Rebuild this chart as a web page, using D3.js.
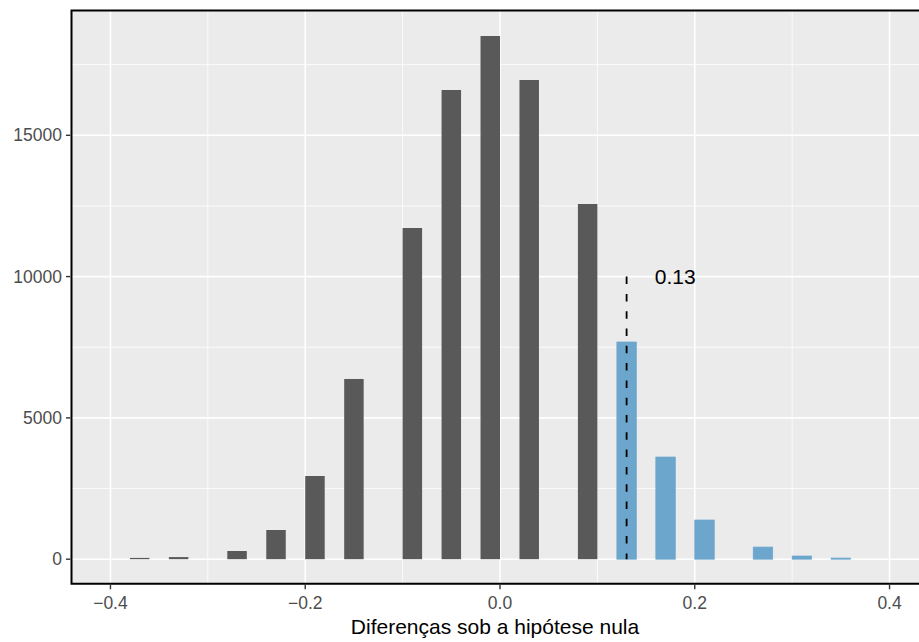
<!DOCTYPE html>
<html>
<head>
<meta charset="utf-8">
<script src="https://cdn.jsdelivr.net/npm/d3@7"></script>
<style>
  html, body { margin: 0; padding: 0; background: #ffffff; }
  svg { display: block; font-family: "Liberation Sans", Arial, Helvetica, sans-serif; }
</style>
</head>
<body>
<svg id="chart" width="919" height="642"></svg>
<script>
// ---- Data ----
const binWidth = 0.02;
const binCenters = d3.range(40).map(i => +(-0.39 + i * 0.02).toFixed(2));
// counts for bins below the observed difference (gray)
const grayCounts = [
  0, 45, 0, 75, 0, 0, 290, 0, 1033, 0,
  2944, 0, 6377, 0, 0, 11720, 0, 16603, 0, 18514,
  0, 16957, 0, 0, 12569, 0, 0, 0, 0, 0,
  0, 0, 0, 0, 0, 0, 0, 0, 0, 0
];
// counts for bins at/above the observed difference (blue)
const blueCounts = [
  0, 0, 0, 0, 0, 0, 0, 0, 0, 0,
  0, 0, 0, 0, 0, 0, 0, 0, 0, 0,
  0, 0, 0, 0, 0, 0, 7686, 0, 3616, 0,
  1387, 0, 0, 430, 0, 113, 0, 40, 0, 0
];
const observed = 0.13;
const observedLabel = "0.13";
const lineTop = 10000;
const labelX = 0.18;
const xTicks = [-0.4, -0.2, 0.0, 0.2, 0.4];
const xMinor = [-0.3, -0.1, 0.1, 0.3];
const yTicks = [0, 5000, 10000, 15000];
const yMinor = [2500, 7500, 12500, 17500];
const xTitle = "Diferenças sob a hipótese nula";

// ---- Layout ----
const svg = d3.select("#chart");
const x = d3.scaleLinear().domain([-0.44, 0.44]).range([71.5, 928.5]);
const y = d3.scaleLinear().domain([0, 15000]).range([559.2, 135.3]);
const yLo = -870, yHi = 19420;
const pLeft = x(-0.44), pRight = x(0.44), pTop = y(yHi), pBottom = y(yLo);

// panel background
svg.append("rect")
  .attr("x", pLeft).attr("y", pTop)
  .attr("width", pRight - pLeft).attr("height", pBottom - pTop)
  .attr("fill", "#EBEBEB");

// minor grid
svg.append("g").selectAll("line").data(xMinor).join("line")
  .attr("x1", d => x(d)).attr("x2", d => x(d))
  .attr("y1", pTop).attr("y2", pBottom)
  .attr("stroke", "#ffffff").attr("stroke-width", 0.8);
svg.append("g").selectAll("line").data(yMinor).join("line")
  .attr("y1", d => y(d)).attr("y2", d => y(d))
  .attr("x1", pLeft).attr("x2", pRight)
  .attr("stroke", "#ffffff").attr("stroke-width", 0.8);
// major grid
svg.append("g").selectAll("line").data(xTicks).join("line")
  .attr("x1", d => x(d)).attr("x2", d => x(d))
  .attr("y1", pTop).attr("y2", pBottom)
  .attr("stroke", "#ffffff").attr("stroke-width", 1.6);
svg.append("g").selectAll("line").data(yTicks).join("line")
  .attr("y1", d => y(d)).attr("y2", d => y(d))
  .attr("x1", pLeft).attr("x2", pRight)
  .attr("stroke", "#ffffff").attr("stroke-width", 1.6);

// gray bars
svg.append("g").selectAll("rect").data(binCenters.map((c, i) => ({c, v: grayCounts[i]})).filter(d => d.v > 0))
  .join("rect")
  .attr("x", d => x(d.c - binWidth / 2))
  .attr("width", d => x(d.c + binWidth / 2) - x(d.c - binWidth / 2))
  .attr("y", d => y(d.v))
  .attr("height", d => y(0) - y(d.v))
  .attr("fill", "#595959");

// blue bars (drawn for all bins with outline, like the reference)
svg.append("g").selectAll("rect").data(binCenters.map((c, i) => ({c, v: blueCounts[i]})))
  .join("rect")
  .attr("x", d => x(d.c - binWidth / 2))
  .attr("width", d => x(d.c + binWidth / 2) - x(d.c - binWidth / 2))
  .attr("y", d => y(d.v))
  .attr("height", d => y(0) - y(d.v))
  .attr("fill", "#6CA6CD")
  .attr("stroke", "#6CA6CD")
  .attr("stroke-width", 0.7);

// dashed observed line
svg.append("line")
  .attr("x1", x(observed)).attr("x2", x(observed))
  .attr("y1", y(lineTop)).attr("y2", y(0))
  .attr("stroke", "#000000").attr("stroke-width", 1.8)
  .attr("stroke-dasharray", "7.5,9.8");

// label
svg.append("text")
  .attr("x", x(labelX)).attr("y", y(lineTop))
  .attr("text-anchor", "middle").attr("dominant-baseline", "central")
  .attr("font-size", "21px").attr("fill", "#000000")
  .text(observedLabel);

// panel border (top, left, bottom)
svg.append("path")
  .attr("d", `M${pRight},${pTop}H${pLeft}V${pBottom}H${pRight}`)
  .attr("fill", "none").attr("stroke", "#000000").attr("stroke-width", 2);

// x ticks
const fmtX = d => d3.format(".1f")(d).replace("-", "\u2212");
const xt = svg.append("g");
xt.selectAll("line").data(xTicks).join("line")
  .attr("x1", d => x(d)).attr("x2", d => x(d))
  .attr("y1", pBottom + 1).attr("y2", pBottom + 5.5)
  .attr("stroke", "#333333").attr("stroke-width", 1.4);
xt.selectAll("text").data(xTicks).join("text")
  .attr("x", d => x(d)).attr("y", 609)
  .attr("text-anchor", "middle")
  .attr("font-size", "17.5px").attr("fill", "#4D4D4D")
  .text(fmtX);

// y ticks
const yt = svg.append("g");
yt.selectAll("line").data(yTicks).join("line")
  .attr("y1", d => y(d)).attr("y2", d => y(d))
  .attr("x1", pLeft - 1).attr("x2", pLeft - 5.5)
  .attr("stroke", "#333333").attr("stroke-width", 1.4);
yt.selectAll("text").data(yTicks).join("text")
  .attr("x", 62).attr("y", d => y(d))
  .attr("text-anchor", "end").attr("dominant-baseline", "central")
  .attr("font-size", "17.5px").attr("fill", "#4D4D4D")
  .text(d => String(d));

// x title
svg.append("text")
  .attr("x", 495).attr("y", 633.5)
  .attr("text-anchor", "middle")
  .attr("font-size", "21px").attr("fill", "#000000")
  .text(xTitle);
</script>
</body>
</html>
